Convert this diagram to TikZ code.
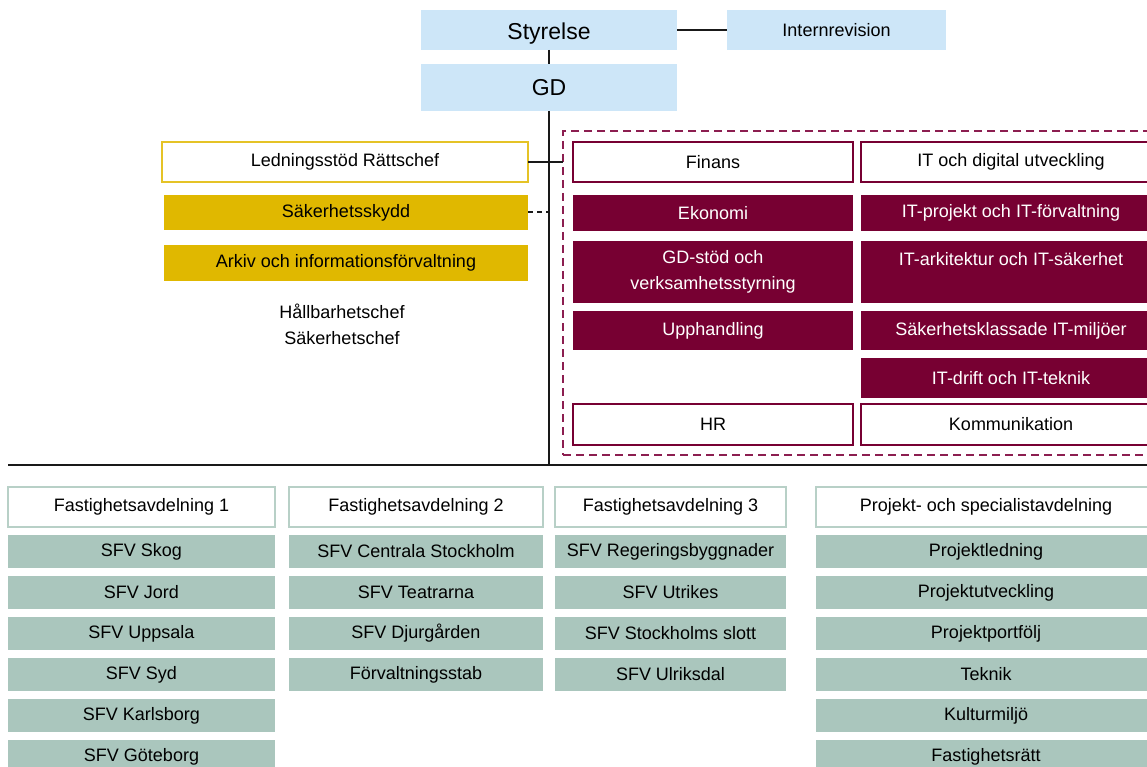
\documentclass[tikz,border=0pt]{standalone}
\usepackage{fontspec}
\setmainfont{Liberation Sans}
\usepackage{tikz}
\usetikzlibrary{positioning}
\definecolor{boardblue}{RGB}{205,230,248}
\definecolor{staffgold}{RGB}{224,184,0}
\definecolor{unitred}{RGB}{119,0,50}
\definecolor{framered}{RGB}{140,30,80}
\definecolor{deptgreen}{RGB}{170,198,189}
\definecolor{headgreen}{RGB}{184,208,199}
\tikzstyle{anybox}=[anchor=north west,inner sep=0pt,outer sep=0pt,align=center]
\tikzstyle{topbox}=[anybox,fill=boardblue,font=\fontsize{23}{26}\selectfont,text depth=0pt]
\tikzstyle{staffbox}=[anybox,fill=staffgold]
\tikzstyle{unitbox}=[anybox,fill=unitred,text=white]
\tikzstyle{unithead}=[anybox,draw=unitred,line width=2pt,fill=white]
\tikzstyle{depthead}=[anybox,draw=headgreen,line width=2pt,fill=white,minimum height=40pt]
\tikzstyle{deptbox}=[anybox,fill=deptgreen,minimum height=33pt]
\tikzstyle{link}=[line width=2pt,black!90]

\begin{document}
\begin{tikzpicture}[x=1pt,y=-1pt,font=\fontsize{18}{26}\selectfont]
\useasboundingbox (0,0) rectangle (1147,767);
\clip (0,0) rectangle (1147,767);

% ledning
\node [topbox,minimum width=256pt,minimum height=40pt] (styrelse) at (421,10) {\raisebox{-3pt}{Styrelse}};
\node [topbox,minimum width=219pt,minimum height=40pt,font=\fontsize{18}{22}\selectfont] (internrev) at (727,10) {Internrevision};
\node [topbox,minimum width=256pt,minimum height=47pt] (gd) at (421,64) {GD};

% stab till vänster
\node [anybox,draw=staffgold!85!white,line width=2pt,fill=white,minimum width=366pt,minimum height=40pt] (ledning) at (162,142) {Ledningsstöd Rättschef};
\node [staffbox,minimum width=364pt,minimum height=35pt] (sakskydd) at (164,195) {Säkerhetsskydd};
\node [staffbox,minimum width=364pt,minimum height=36pt] (arkiv) at (164,245) {Arkiv och informationsförvaltning};
\node [align=center] (chefer) at (342,324) {Hållbarhetschef\\Säkerhetschef};

% stab till höger
\node [anybox,draw=framered,line width=2pt,dash pattern=on 8pt off 5pt,minimum width=600pt,minimum height=324pt] (stab) at (563,131) {};
\node [unithead,minimum width=280pt,minimum height=40pt] (finans) at (573,142) {Finans};
\node [unithead,minimum width=300pt,minimum height=40pt] (itdig) at (861,142) {IT och digital utveckling};
\node [unitbox,minimum width=280pt,minimum height=36pt] (ekonomi) at (573,195) {Ekonomi};
\node [unitbox,minimum width=300pt,minimum height=36pt] (itproj) at (861,195) {IT-projekt och IT-förvaltning};
\node [unitbox,minimum width=280pt,minimum height=62pt] (gdstod) at (573,241) {GD-stöd och\\verksamhetsstyrning};
\node [unitbox,minimum width=300pt,minimum height=62pt] (itark) at (861,241) {IT-arkitektur och IT-säkerhet\\~};
\node [unitbox,minimum width=280pt,minimum height=39pt] (upph) at (573,311) {Upphandling};
\node [unitbox,minimum width=300pt,minimum height=39pt] (sakit) at (861,311) {Säkerhetsklassade IT-miljöer};
\node [unitbox,minimum width=300pt,minimum height=40pt] (itdrift) at (861,358) {IT-drift och IT-teknik};
\node [unithead,minimum width=280pt,minimum height=41pt] (hr) at (573,404) {HR};
\node [unithead,minimum width=300pt,minimum height=41pt] (komm) at (861,404) {Kommunikation};

% avdelningar
\coordinate (divL) at (8,465);
\coordinate (divR) at (1147,465);
\node [depthead,minimum width=267pt] (fa1-0) at (8,487) {Fastighetsavdelning 1};
\node [depthead,minimum width=254pt] (fa2-0) at (289,487) {Fastighetsavdelning 2};
\node [depthead,minimum width=231pt] (fa3-0) at (555,487) {Fastighetsavdelning 3};
\node [depthead,minimum width=340pt] (proj-0) at (816,487) {Projekt- och specialistavdelning};

\foreach \txt [count=\i, remember=\i as \j (initially 0)] in {SFV Skog,SFV Jord,SFV Uppsala,SFV Syd,SFV Karlsborg,SFV Göteborg}
  \node [deptbox,minimum width=267pt,below=8pt of fa1-\j] (fa1-\i) {\txt};
\foreach \txt [count=\i, remember=\i as \j (initially 0)] in {SFV Centrala Stockholm,SFV Teatrarna,SFV Djurgården,Förvaltningsstab}
  \node [deptbox,minimum width=254pt,below=8pt of fa2-\j] (fa2-\i) {\txt};
\foreach \txt [count=\i, remember=\i as \j (initially 0)] in {SFV Regeringsbyggnader,SFV Utrikes,SFV Stockholms slott,SFV Ulriksdal}
  \node [deptbox,minimum width=231pt,below=8pt of fa3-\j] (fa3-\i) {\txt};
\foreach \txt [count=\i, remember=\i as \j (initially 0)] in {Projektledning,Projektutveckling,Projektportfölj,Teknik,Kulturmiljö,Fastighetsrätt}
  \node [deptbox,minimum width=340pt,below=8pt of proj-\j] (proj-\i) {\txt};

% linjer
\draw [link] (styrelse) -- (internrev);
\draw [link] (styrelse) -- (gd);
\draw [link] (gd.south) -- (gd.south |- divL);
\draw [link,line width=2.5pt] (divL) -- (divR);
\draw [link] (ledning.east) -- (ledning.east -| stab.west);
\draw [link,dash pattern=on 5pt off 4pt] (sakskydd.east) -- (sakskydd.east -| gd.south);
\end{tikzpicture}
\end{document}
